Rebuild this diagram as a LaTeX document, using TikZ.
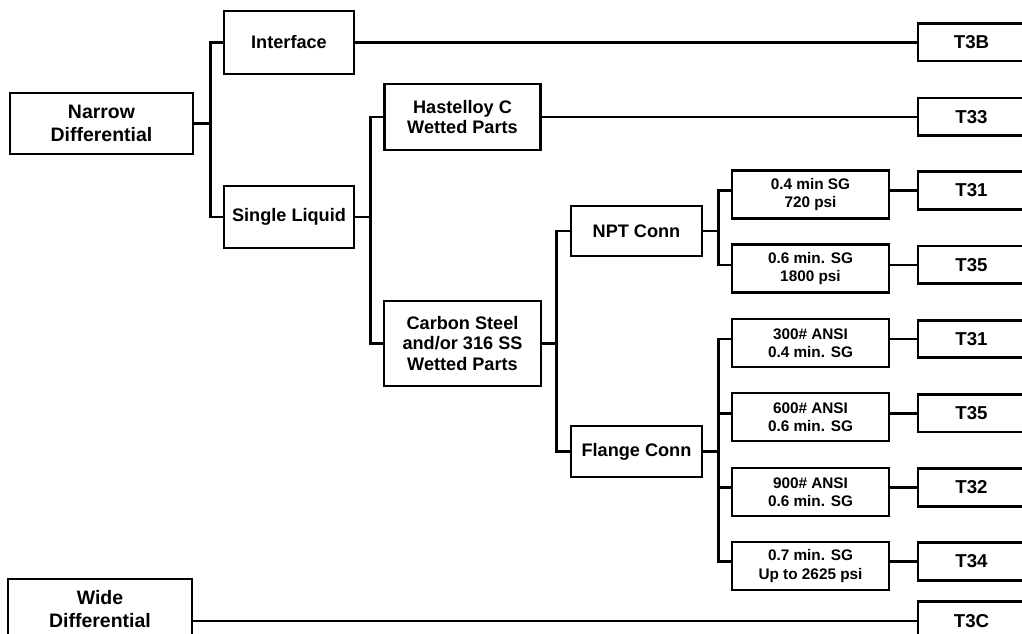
\documentclass[tikz,border=0pt]{standalone}
\usepackage{fontspec}
\setmainfont{Liberation Sans}
\begin{document}
\begin{tikzpicture}[x=0.75pt, y=-0.75pt, line width=1.8pt,
  box/.style={draw, line width=2.1pt, align=center, inner sep=0pt, font=\bfseries\fontsize{13.6}{15.5}\selectfont},
  boxsize/.style 2 args={minimum width=#1*0.75pt, minimum height=#2*0.75pt},
  rootbox/.style={box, font=\bfseries\fontsize{14.6}{17.5}\selectfont},
  cond/.style={box, boxsize={157}{48}, font=\bfseries\fontsize{11.5}{13.75}\selectfont},
  code/.style={box, boxsize={107}{37.5}, font=\bfseries\fontsize{14}{16}\selectfont}]

  \useasboundingbox (0,0) rectangle (1022,633);
  \clip (0,0) rectangle (1022,633);

  % first level
  \node[rootbox, boxsize={183}{61}] (narrow) at (101.5,123.5) {Narrow\\Differential};
  \node[rootbox, boxsize={184}{60}] (wide) at (100,609) {Wide\\Differential};

  \node[box, boxsize={130}{63}] (iface) at (289,42.5) {Interface};
  \node[box, boxsize={130}{62}] (single) at (289,217) {Single Liquid};
  \node[box, boxsize={156}{66}] (hast) at (462.5,117) {Hastelloy C\\Wetted Parts};
  \node[box, boxsize={157}{85}] (carbon) at (462.5,343.5) {Carbon Steel\\and/or 316 SS\\Wetted Parts};
  \node[box, boxsize={131}{50}] (npt) at (636.5,231) {NPT Conn};
  \node[box, boxsize={131}{51}] (flange) at (636.5,451.5) {Flange Conn};

  % ratings
  \node[cond] (npt1) at (810.5,194.5) {0.4 min SG\\720 psi};
  \node[cond] (npt2) at (810.5,268.5) {0.6 min. SG\\1800 psi};
  \node[cond] (fl1) at (810.5,343) {300\# ANSI\\0.4 min. SG};
  \node[cond] (fl2) at (810.5,417) {600\# ANSI\\0.6 min. SG};
  \node[cond] (fl3) at (810.5,492) {900\# ANSI\\0.6 min. SG};
  \node[cond] (fl4) at (810.5,566) {0.7 min. SG\\Up to 2625 psi};

  % model codes
  \node[code] (t3b) at (971.5,42.3) {T3B};
  \node[code] (t33) at (971.5,116.7) {T33};
  \node[code] (t31a) at (971.5,190.5) {T31};
  \node[code] (t35a) at (971.5,264.8) {T35};
  \node[code] (t31b) at (971.5,339) {T31};
  \node[code] (t35b) at (971.5,413.3) {T35};
  \node[code] (t32) at (971.5,487.5) {T32};
  \node[code] (t34) at (971.5,561.5) {T34};
  \node[code, boxsize={107}{39}] (t3c) at (971.5,620.7) {T3C};

  % brackets
  \draw (narrow.east) -- ++(16,0) coordinate (jn);
  \draw (iface.west) -| (jn) |- (single.west);
  \draw (single.east) -- ++(15,0) coordinate (js);
  \draw (hast.west) -| (js) |- (carbon.west);
  \draw (carbon.east) -- ++(14,0) coordinate (jc);
  \draw (npt.west) -| (jc) |- (flange.west);
  \draw (npt.east) -- ++(15,0) coordinate (jp);
  \draw (npt1.west |- t31a) -| (jp) |- (npt2.west |- t35a);
  \draw (flange.east) -- ++(15,0) coordinate (jf);
  \draw (fl1.west |- t31b) -| (jf) |- (fl4.west |- t34);
  \draw (jf |- t35b) -- (fl2.west |- t35b);
  \draw (jf |- t32) -- (fl3.west |- t32);

  % to the codes
  \draw (iface.east |- t3b) -- (t3b.west);
  \draw (hast.east |- t33) -- (t33.west);
  \foreach \c/\t in {npt1/t31a, npt2/t35a, fl1/t31b, fl2/t35b, fl3/t32, fl4/t34}
    \draw (\c.east |- \t) -- (\t.west);
  \draw (wide.east |- t3c) -- (t3c.west);
\end{tikzpicture}
\end{document}
